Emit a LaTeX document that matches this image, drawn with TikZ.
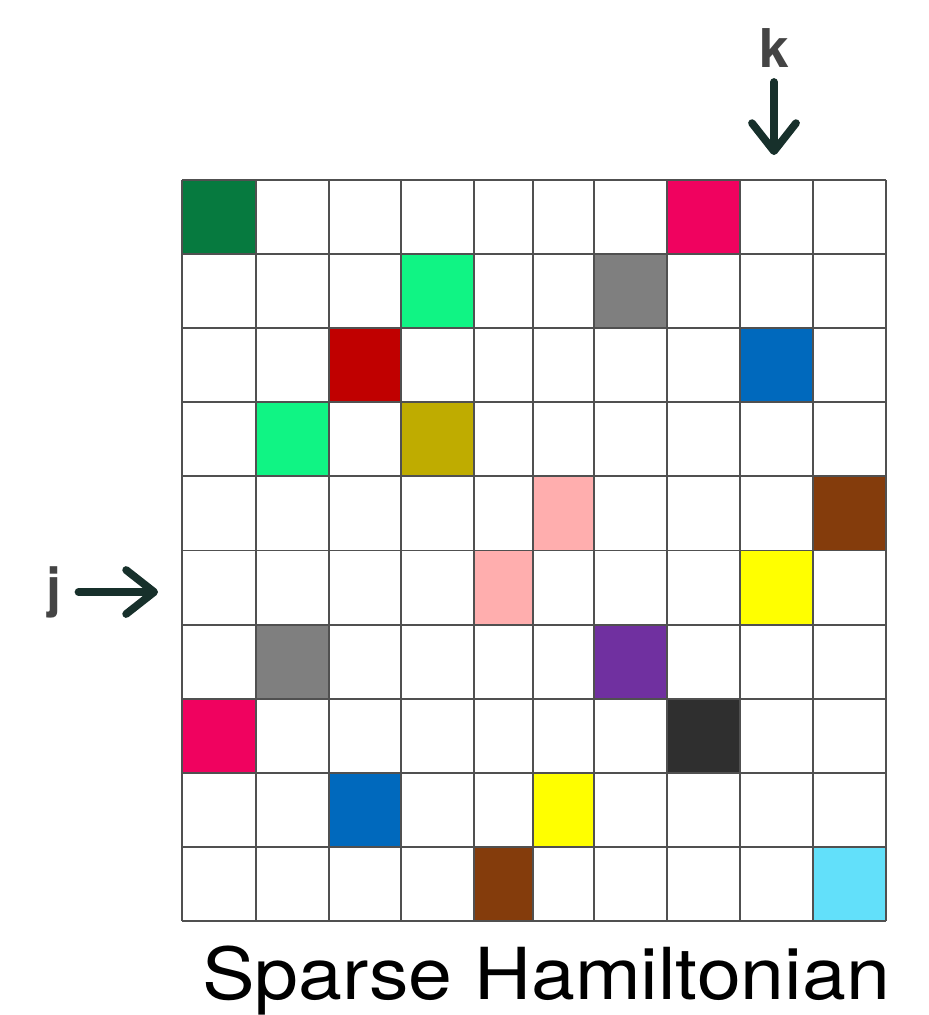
\documentclass[tikz,border=0pt]{standalone}
\usepackage{fontspec}
\setmainfont{TeX Gyre Heros}
\usetikzlibrary{arrows.meta}

\definecolor{gridgray}{HTML}{505050}
\definecolor{labelgray}{HTML}{444444}
\definecolor{arrowdark}{HTML}{17302B}
\definecolor{hgreen}{HTML}{067A3F}
\definecolor{hmagenta}{HTML}{F0025F}
\definecolor{hmint}{HTML}{10F484}
\definecolor{hgray}{HTML}{7F7F7F}
\definecolor{hred}{HTML}{C00000}
\definecolor{hblue}{HTML}{0069BD}
\definecolor{holive}{HTML}{BFAC00}
\definecolor{hpink}{HTML}{FFAEAE}
\definecolor{hbrown}{HTML}{843C0C}
\definecolor{hyellow}{HTML}{FFFF00}
\definecolor{hpurple}{HTML}{7030A0}
\definecolor{hdark}{HTML}{2F2F2F}
\definecolor{hcyan}{HTML}{62E0FA}

% column edges of the matrix (columns 5 and 6 are narrower)
\def\coledge{{182,256,329,401,474,533,594,667,740,813,886}}

\begin{document}
\begin{tikzpicture}[x=0.025cm, y=-0.025cm,
    gridline/.style={draw=gridgray, line width=1.3pt},
    idxlabel/.style={text=labelgray, inner sep=0pt,
        font=\fontsize{38}{40}\selectfont\bfseries},
    idxarrow/.style={draw=arrowdark, line width=5.5pt, line cap=round,
        -{Straight Barb[length=0.7cm, width=1.1cm, round]}}]
    \useasboundingbox (0,0) rectangle (929,1015);

    % non-zero entries: row/column/colour
    \foreach \r/\c/\col in {0/0/hgreen, 0/7/hmagenta,
        1/3/hmint, 1/6/hgray,
        2/2/hred, 2/8/hblue,
        3/1/hmint, 3/3/holive,
        4/5/hpink, 4/9/hbrown,
        5/4/hpink, 5/8/hyellow,
        6/1/hgray, 6/6/hpurple,
        7/0/hmagenta, 7/7/hdark,
        8/2/hblue, 8/5/hyellow,
        9/4/hbrown, 9/9/hcyan} {
        \pgfmathsetmacro\xa{\coledge[\c]}
        \pgfmathsetmacro\xb{\coledge[\c+1]}
        \fill[\col] (\xa,180+74.1*\r) rectangle (\xb,254.1+74.1*\r);
    }

    % grid
    \foreach \r in {0,...,10}
        \draw[gridline] (182,180+74.1*\r) -- (886,180+74.1*\r);
    \foreach \x in {182,256,329,401,474,533,594,667,740,813,886}
        \draw[gridline] (\x,180) -- (\x,921);

    % index labels
    \node[idxlabel, anchor=south] (klabel) at (774,68) {k};
    \coordinate (ktip) at (774,155);
    \draw[idxarrow, shorten <=0.35cm] (klabel.south) -- (ktip);

    \node[idxlabel] (jlabel) at (54,592) {j};
    \coordinate (jtip) at (158,592);
    \draw[idxarrow, shorten <=0.42cm] (jlabel.east) -- (jtip);

    \node[anchor=base, inner sep=0pt, font=\fontsize{51}{56}\selectfont]
        (title) at (546,999) {\scalebox{1.1}[1]{Sparse Hamiltonian}};
\end{tikzpicture}
\end{document}
